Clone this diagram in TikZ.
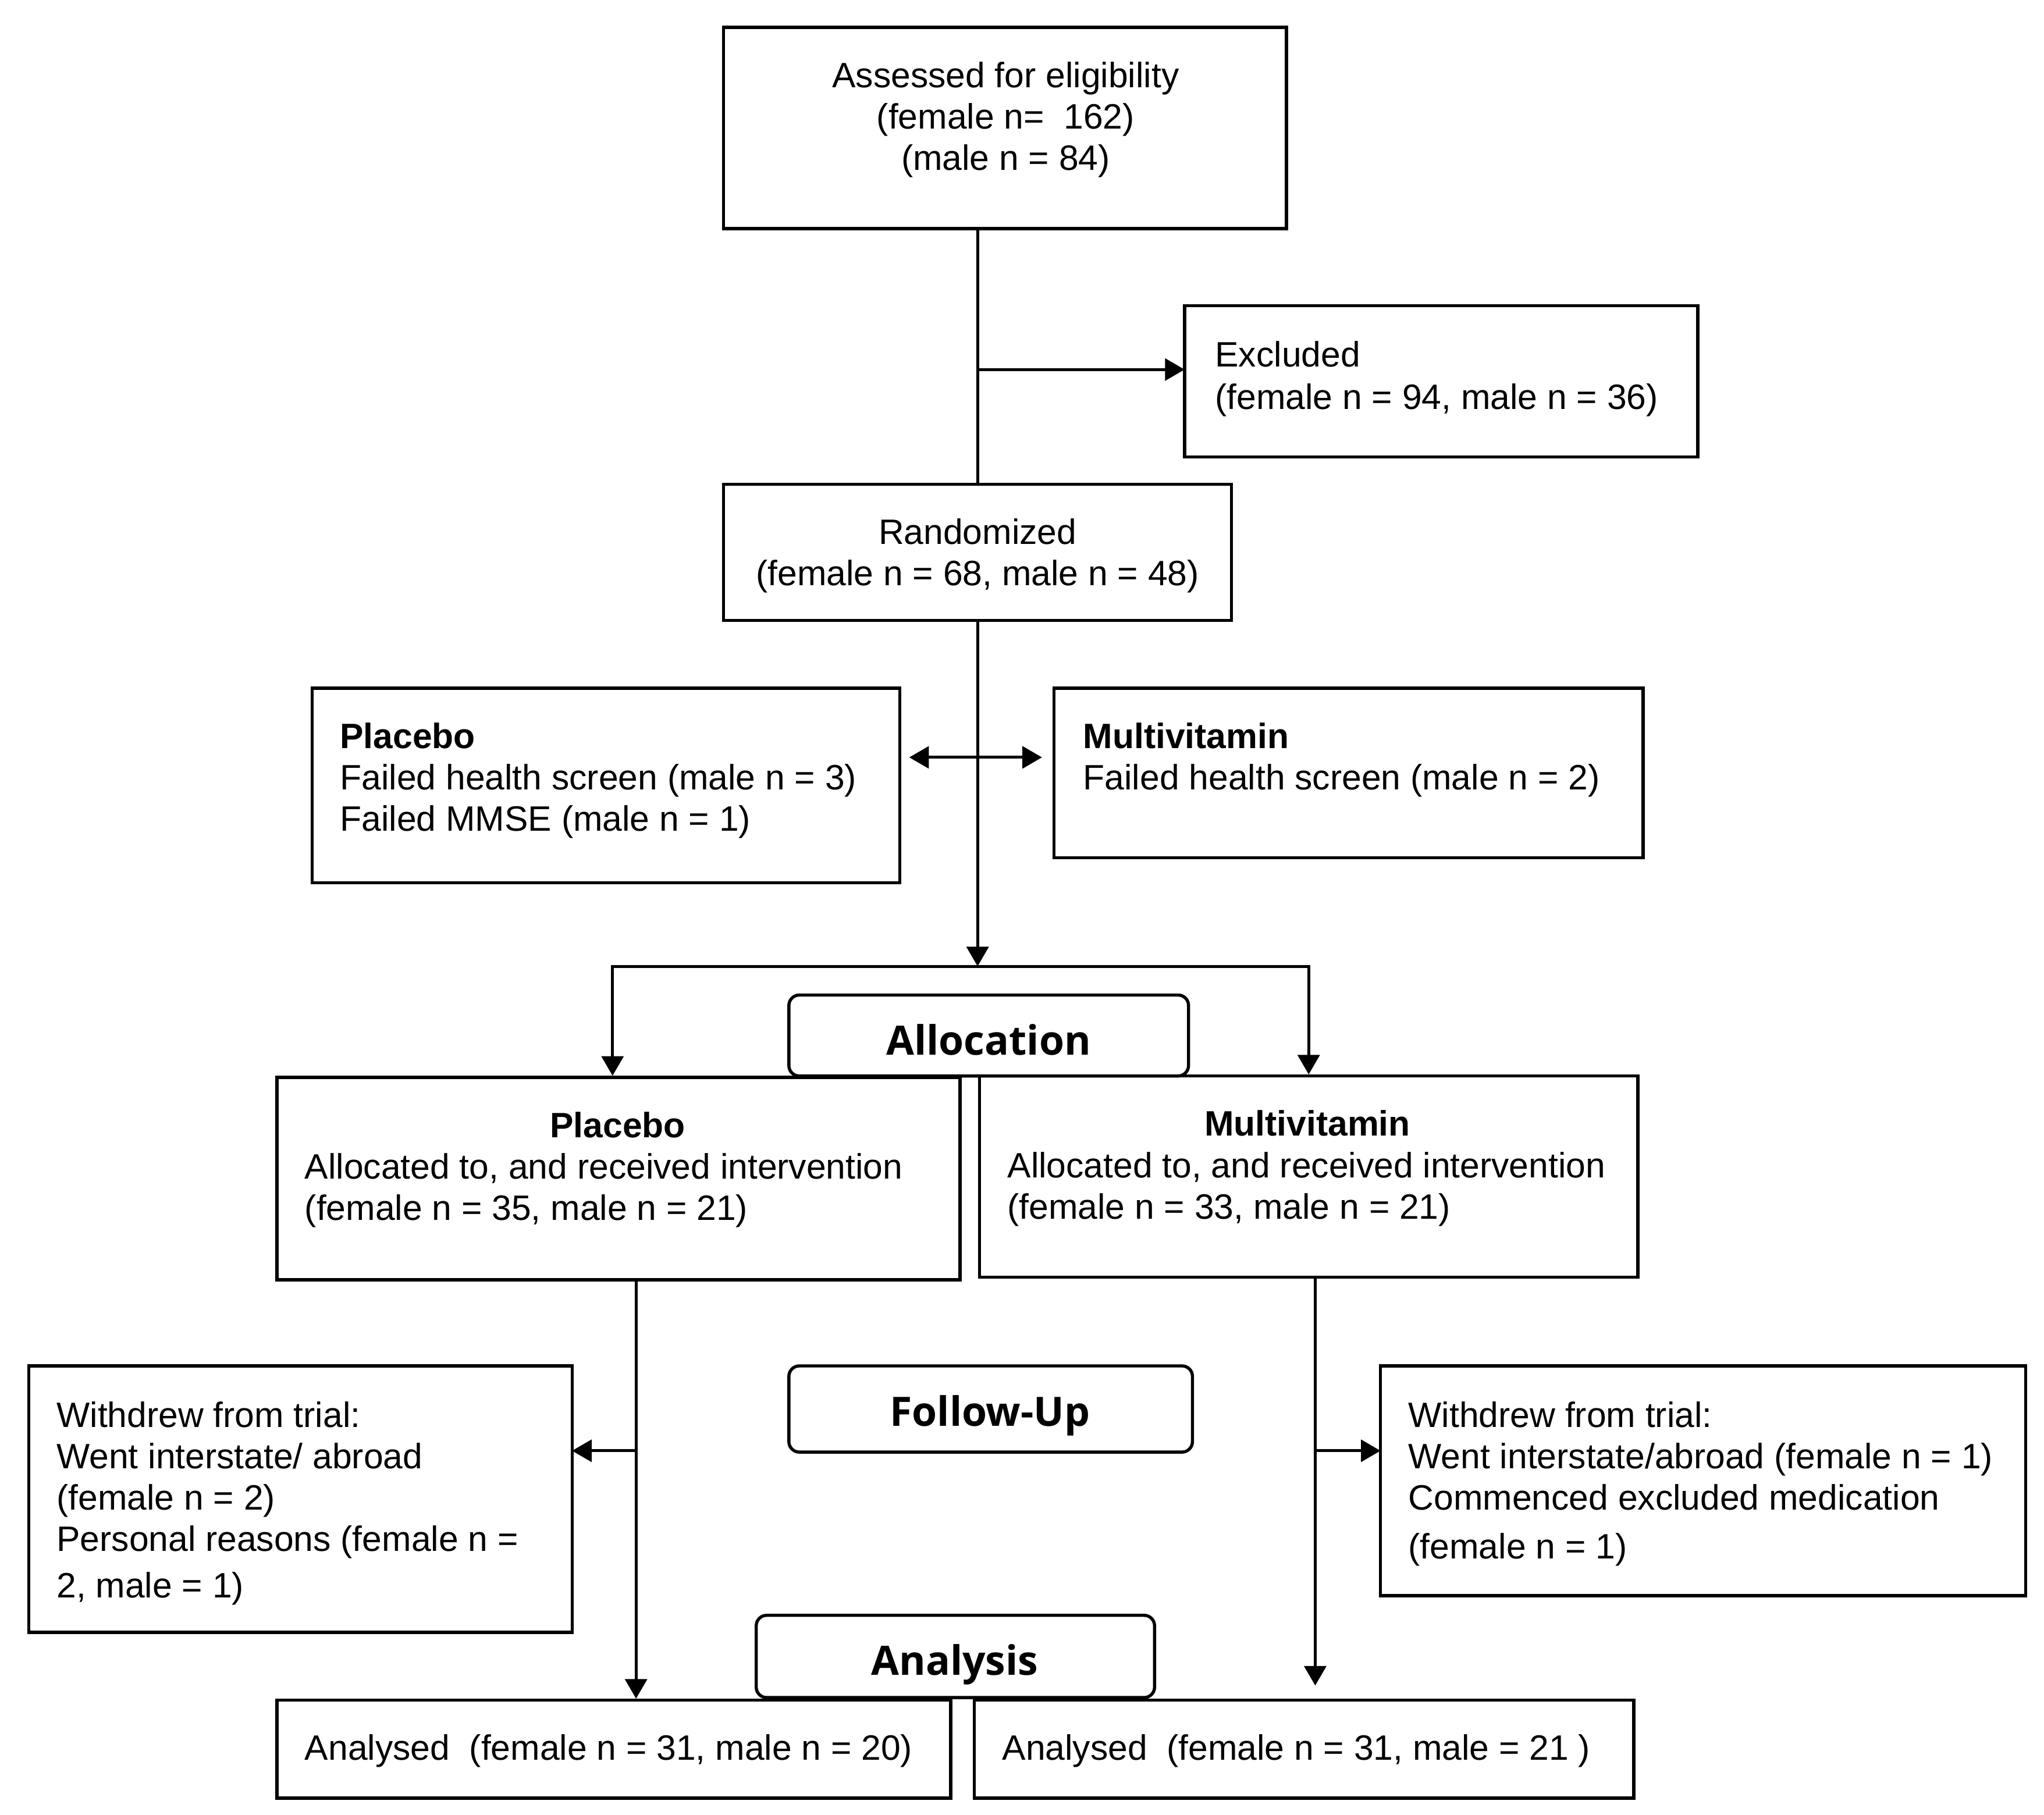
\documentclass[tikz,border=0pt]{standalone}
\usepackage{fontspec}
\setmainfont{Liberation Sans}
\newfontfamily\lblfont{Open Sans}
\usetikzlibrary{arrows.meta,fit}
\tikzset{
  box/.style={draw, line width=1.2pt, inner sep=0pt},
  rbox/.style={box, rounded corners=4pt},
  txt/.style={inner sep=0pt, align=left, font=\fontsize{13.5pt}{15.8pt}\selectfont},
  ctxt/.style={txt, align=center},
  lbl/.style={inner sep=0pt, font=\lblfont\bfseries\fontsize{15.5pt}{18pt}\selectfont},
  conn/.style={line width=1.1pt},
  arr/.style={conn, -{Triangle[length=7.5pt,width=8.4pt]}}
}
\begin{document}
\begin{tikzpicture}[x=0.5pt,y=-0.5pt]
\useasboundingbox (0,0) rectangle (1565,1389.9);

% boxes
\node[box, fit={(554,21) (985,175)}] (assess) {};
\node[box, fit={(907,234) (1300,350)}] (excl) {};
\node[box, fit={(554,371) (943,475)}] (rand) {};
\node[box, fit={(239,527) (689,676)}] (plE) {};
\node[box, fit={(807,527) (1258,657)}] (mvE) {};
\node[rbox, fit={(604,762) (910,824)}] (allocB) {};
\node[box, fit={(212,825) (735,980)}] (plA) {};
\node[box, fit={(750,824) (1254,978)}] (mvA) {};
\node[box, fit={(22,1046) (438,1250)}] (wdL) {};
\node[rbox, fit={(604,1046) (913,1112)}] (fupB) {};
\node[box, fit={(1057,1046) (1551,1222)}] (wdR) {};
\node[rbox, fit={(579,1237) (884,1300)}] (anaB) {};
\node[box, fit={(212,1302) (728,1377)}] (anL) {};
\node[box, fit={(746,1302) (1251,1377)}] (anR) {};

% texts
\node[ctxt, anchor=north] (assessT) at (770,47) {Assessed for eligibility\\(female n=\ \ 162)\\(male n = 84)};
\node[txt, anchor=north west] (exclT) at (930,261) {Excluded\\[0.5pt](female n = 94, male n = 36)};
\node[ctxt, anchor=north] (randT) at (748.5,397) {Randomized\\(female n = 68, male n = 48)};
\node[txt, anchor=north west] (plET) at (260,553) {\bfseries Placebo\\Failed health screen (male n = 3)\\Failed MMSE (male n = 1)};
\node[txt, anchor=north west] (mvET) at (829,553) {\bfseries Multivitamin\\Failed health screen (male n = 2)};
\node[lbl, anchor=base] (allocT) at (757,808) {Allocation};
\node[txt, anchor=north] (plAT1) at (473,851) {\bfseries Placebo};
\node[txt, anchor=north west] (plAT2) at (233,883) {Allocated to, and received intervention\\(female n = 35, male n = 21)};
\node[txt, anchor=north] (mvAT1) at (1001,850) {\bfseries Multivitamin};
\node[txt, anchor=north west] (mvAT2) at (771,882) {Allocated to, and received intervention\\(female n = 33, male n = 21)};
\node[txt, anchor=north west] (wdLT) at (43,1073) {Withdrew from trial:\\Went interstate/ abroad\\(female n = 2)\\Personal reasons (female n =\\[2pt]2, male = 1)};
\node[lbl, anchor=base] (fupT) at (758,1092) {Follow-Up};
\node[txt, anchor=north west] (wdRT) at (1078,1073) {Withdrew from trial:\\Went interstate/abroad (female n = 1)\\Commenced excluded medication\\[3pt](female n = 1)};
\node[lbl, anchor=base] (anaT) at (731,1283) {Analysis};
\node[txt, anchor=north west] (anLT) at (233,1328) {Analysed\ \ (female n = 31, male n = 20)};
\node[txt, anchor=north west] (anRT) at (767,1328) {Analysed\ \ (female n = 31, male = 21 )};

% connector points
\coordinate (exclIn) at (907,283);
\coordinate (split) at (748.5,740);
\coordinate (dbl) at (748.5,580);
\coordinate (plX) at (487,980);
\coordinate (mvX) at (1007,978);
\coordinate (wdLin) at (438,1111);
\coordinate (wdRin) at (1057,1111);

% connectors
\draw[conn] (rand.north |- assess.south) -- (rand.north);
\draw[arr] (rand.north |- exclIn) -- (exclIn);
\draw[arr] (rand.south) -- (split);
\draw[arr, shorten >=3pt] (dbl) -- (dbl -| plE.east);
\draw[arr, shorten >=4pt] (dbl) -- (dbl -| mvE.west);
\draw[arr] (split) -| ([xshift=-2.25pt]plA.north);
\draw[arr] (split) -| (mvA.north);
\draw[arr] (plX) -- (plX |- anL.north);
\draw[arr] (plX |- wdLin) -- (wdLin);
\draw[arr, shorten >=5pt] (mvX) -- (mvX |- anR.north);
\draw[arr] (mvX |- wdRin) -- (wdRin);
\end{tikzpicture}
\end{document}
